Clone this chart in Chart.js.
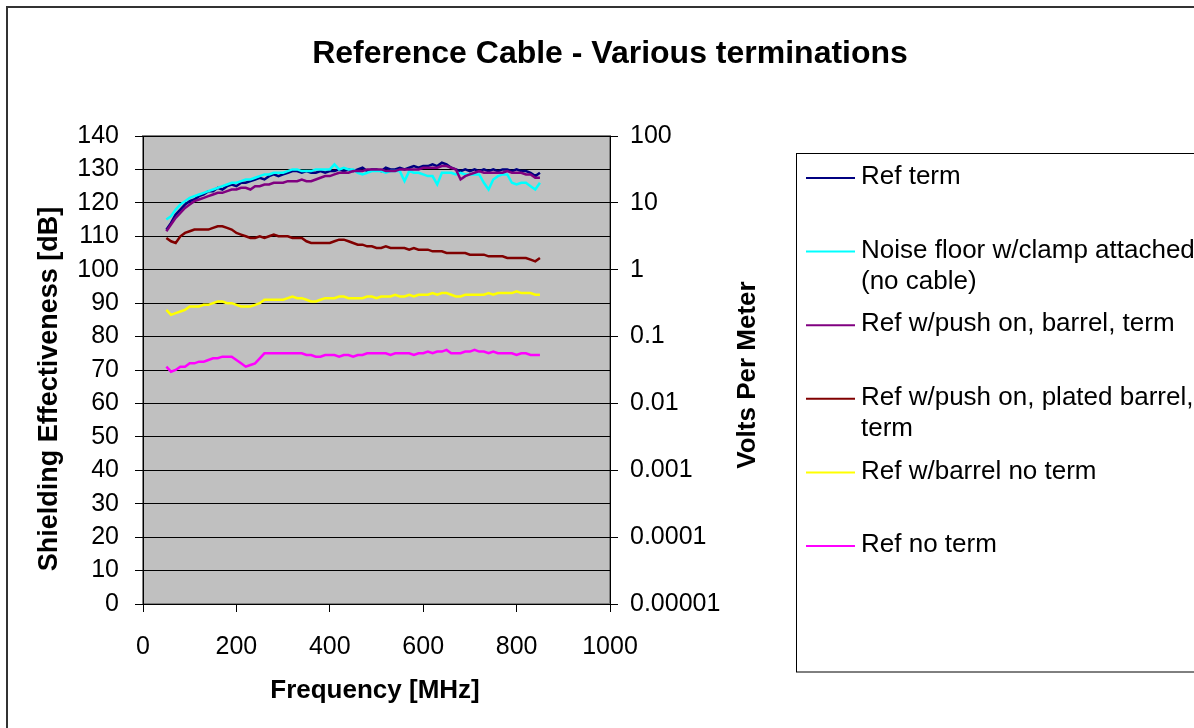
<!DOCTYPE html>
<html>
<head>
<meta charset="utf-8">
<script src="https://cdn.jsdelivr.net/npm/chart.js@4.4.1/dist/chart.umd.min.js"></script>
<style>
  body { margin: 0; background: #fff; }
  #wrap { width: 1194px; height: 728px; }
</style>
</head>
<body>
<div id="wrap"><canvas id="chart" width="1194" height="728"></canvas></div>
<script>
const FONT = '"Liberation Sans", Arial, sans-serif';

const chartTitle = 'Reference Cable - Various terminations';
const xTitle = 'Frequency [MHz]';
const yTitle = 'Shielding Effectiveness [dB]';
const y2Title = 'Volts Per Meter';

const voltTicks = [0.00001, 0.0001, 0.001, 0.01, 0.1, 1, 10, 100];
const voltLabels = ['0.00001', '0.0001', '0.001', '0.01', '0.1', '1', '10', '100'];

const freqs = [50, 60, 70, 80, 90, 100, 110, 120, 130, 140, 150, 160, 170, 180, 190,
  200, 210, 220, 230, 240, 250, 260, 270, 280, 290, 300, 310, 320, 330, 340, 350,
  360, 370, 380, 390, 400, 410, 420, 430, 440, 450, 460, 470, 480, 490, 500, 510,
  520, 530, 540, 550, 560, 570, 580, 590, 600, 610, 620, 630, 640, 650, 660, 670,
  680, 690, 700, 710, 720, 730, 740, 750, 760, 770, 780, 790, 800, 810, 820, 830,
  840, 850];

const seriesNames = [
  ['Ref term'],
  ['Noise floor w/clamp attached', '(no cable)'],
  ['Ref w/push on, barrel, term'],
  ['Ref w/push on, plated barrel,', 'term'],
  ['Ref w/barrel no term'],
  ['Ref no term']
];
const seriesColors = ['#000080', '#00FFFF', '#800080', '#800000', '#FFFF00', '#FF00FF'];

const refTerm = [112, 114, 116.5, 118, 119.5, 120.5, 121, 122, 122.5, 123.5, 123.5, 124.5,
  124, 125, 125.5, 125, 126, 126, 126.5, 127, 127.5, 127, 128, 128.5, 128, 128.5, 129,
  129.5, 129.5, 129, 129.5, 129, 129, 129.5, 129, 129.5, 129.5, 130, 129.5, 130, 129.5,
  130, 130.5, 129.5, 130, 130, 129.5, 130.5, 130, 130, 130.5, 130, 130.5, 131, 130.5, 131,
  131, 131.5, 131, 132, 131.5, 130.5, 130, 129.5, 130, 129.5, 130, 129.5, 130, 129.5, 130,
  129.5, 130, 130, 129.5, 130, 129.5, 129.5, 129, 128, 129];

const noiseFloor = [115, 116, 118, 119.5, 120.5, 121.5, 122, 122.5, 123, 123.5, 124, 124.5,
  125, 125.5, 126, 126, 126.5, 127, 127, 127.5, 128, 128.5, 128.5, 129, 129, 129, 129.5,
  130, 130, 129.5, 129.5, 129.5, 130, 130, 130, 130, 131.5, 130, 130.5, 130, 130, 129,
  128.5, 129, 129.5, 129.5, 129.5, 129, 129.5, 129.5, 129.5, 126.5, 129.5, 129, 129, 128.5,
  128, 128, 125.5, 129, 129, 129, 128.5, 129, 128.5, 128.5, 128.5, 128.5, 126, 124, 127,
  128, 128.5, 128.5, 126, 125.5, 126, 126, 125, 124, 126];

const pushBarrel = [111.5, 113.5, 115.5, 117, 118.5, 119.5, 120.5, 121, 121.5, 122, 122.5,
  123, 123, 123.5, 124, 124, 124.5, 124.5, 124, 125, 125, 125.5, 125.5, 126, 126, 126,
  126.5, 126.5, 126.5, 127, 126.5, 126.5, 127, 127.5, 128, 128, 128.5, 129, 129, 129,
  129.5, 129.5, 129.5, 130, 130, 130, 130, 129.5, 129.5, 129.5, 130, 130, 130, 130, 130,
  130.5, 130.5, 130.5, 130.5, 131, 131, 130.5, 130, 127, 128, 128.5, 129, 129.5, 129, 129,
  129, 129, 129, 129.5, 129, 129, 129, 128.5, 128.5, 127.5, 127.5];

const platedBarrel = [109.5, 108.5, 108, 110, 111, 111.5, 112, 112, 112, 112, 112.5, 113,
  113, 112.5, 112, 111, 110.5, 110, 109.5, 109.5, 110, 109.5, 110, 110.5, 110, 110, 110,
  109.5, 109.5, 109.5, 108.5, 108, 108, 108, 108, 108, 108.5, 109, 109, 108.5, 108, 107.5,
  107.5, 107, 107, 106.5, 106.5, 107, 106.5, 106.5, 106.5, 106.5, 106, 106.5, 106, 106,
  106, 105.5, 105.5, 105.5, 105, 105, 105, 105, 105, 104.5, 104.5, 104.5, 104.5, 104, 104,
  104, 104, 103.5, 103.5, 103.5, 103.5, 103.5, 103, 102.5, 103.5];

const barrelNoTerm = [88, 86.5, 87, 87.5, 88, 89, 89, 89, 89.5, 89.5, 90, 90.5, 90.5, 90,
  90, 89.5, 89, 89, 89, 89.5, 90, 91, 91, 91, 91, 91, 91.5, 92, 91.5, 91.5, 91, 90.5, 90.5,
  91, 91.5, 91.5, 91.5, 92, 92, 91.5, 91.5, 91.5, 91.5, 92, 92, 91.5, 92, 92, 92, 92.5,
  92, 92, 92.5, 92, 92.5, 92.5, 92.5, 93, 92.5, 93, 93, 92.5, 92, 92, 92.5, 92.5, 92.5,
  92.5, 92.5, 93, 92.5, 93, 93, 93, 93, 93.5, 93, 93, 93, 92.5, 92.5];

const noTerm = [71, 69.5, 70, 71, 71, 72, 72, 72.5, 72.5, 73, 73.5, 73.5, 74, 74, 74, 73,
  72, 71, 71.5, 72, 73.5, 75, 75, 75, 75, 75, 75, 75, 75, 75, 74.5, 74.5, 74, 74, 74.5,
  74.5, 74.5, 74, 74.5, 74.5, 74, 74.5, 74.5, 75, 75, 75, 75, 75, 74.5, 75, 75, 75, 75,
  74.5, 75, 75, 75.5, 75, 75.5, 75.5, 76, 75, 75, 75, 75.5, 75.5, 76, 75.5, 75.5, 75, 75.5,
  75, 75, 75, 75, 74.5, 75, 75, 74.5, 74.5, 74.5];

const seriesValues = [refTerm, noiseFloor, pushBarrel, platedBarrel, barrelNoTerm, noTerm];

const datasets = seriesValues.map((vals, i) => ({
  label: seriesNames[i].join(' '),
  data: vals.map((v, j) => ({ x: freqs[j], y: v })),
  borderColor: seriesColors[i],
  backgroundColor: seriesColors[i],
  borderWidth: 2.5,
  pointRadius: 0,
  tension: 0,
  yAxisID: 'y',
  order: seriesValues.length - i,
}));

// grey plot area + outer frame
const plotBackground = {
  id: 'plotBackground',
  beforeDraw(chart) {
    const { ctx, chartArea: { left, top, width, height } } = chart;
    ctx.save();
    ctx.fillStyle = '#fff';
    ctx.fillRect(0, 0, chart.width, chart.height);
    ctx.fillStyle = '#C0C0C0';
    ctx.fillRect(left, top, width, height);
    ctx.strokeStyle = '#808080';
    ctx.lineWidth = 2;
    ctx.strokeRect(left, top, width, height);
    ctx.strokeStyle = '#333';
    ctx.lineWidth = 2;
    ctx.strokeRect(7, 7, 1400, 1000);
    ctx.restore();
  },
};

// titles and legend box
const decorations = {
  id: 'decorations',
  afterDraw(chart) {
    const { ctx } = chart;
    ctx.save();
    ctx.fillStyle = '#000';
    ctx.textAlign = 'center';
    ctx.textBaseline = 'middle';

    ctx.font = 'bold 32px ' + FONT;
    ctx.fillText(chartTitle, 610, 54);

    ctx.font = 'bold 26px ' + FONT;
    ctx.fillText(xTitle, 375, 691);
    ctx.save();
    ctx.translate(748, 375);
    ctx.rotate(-Math.PI / 2);
    ctx.fillText(y2Title, 0, 0);
    ctx.restore();

    ctx.font = 'bold 27px ' + FONT;
    ctx.save();
    ctx.translate(50, 389);
    ctx.rotate(-Math.PI / 2);
    ctx.fillText(yTitle, 0, 0);
    ctx.restore();

    // legend
    ctx.strokeStyle = '#000';
    ctx.lineWidth = 1;
    ctx.strokeRect(796.5, 153.5, 600, 518.5);
    ctx.font = '26px ' + FONT;
    ctx.textAlign = 'left';
    chart.data.datasets.forEach((ds, i) => {
      const y = 178 + i * 73.6;
      ctx.strokeStyle = ds.borderColor;
      ctx.lineWidth = 2;
      ctx.beginPath();
      ctx.moveTo(806, y);
      ctx.lineTo(855, y);
      ctx.stroke();
      seriesNames[i].forEach((line, k) => {
        ctx.fillText(line, 861, y - 1 + k * 31);
      });
    });
    ctx.restore();
  },
};

new Chart(document.getElementById('chart'), {
  type: 'line',
  data: { datasets },
  options: {
    responsive: false,
    animation: false,
    layout: { padding: { top: 136, left: 0, right: 0, bottom: 0 } },
    plugins: {
      legend: { display: false },
      tooltip: { enabled: false },
      title: { display: false },
    },
    scales: {
      x: {
        type: 'linear',
        min: 0,
        max: 1000,
        ticks: {
          stepSize: 200,
          color: '#000',
          font: { family: FONT, size: 25 },
          padding: 20,
          maxRotation: 0,
          callback: (value) => String(value),
        },
        grid: { drawOnChartArea: false, drawTicks: true, tickLength: 8, color: '#000' },
        border: { color: '#000', width: 1 },
        afterFit(scale) { scale.height = 124; },
      },
      y: {
        position: 'left',
        min: 0,
        max: 140,
        ticks: { stepSize: 10, color: '#000', font: { family: FONT, size: 25 }, padding: 16 },
        grid: { color: '#000', tickLength: 8, lineWidth: 1 },
        border: { color: '#000', width: 1 },
        afterFit(scale) { scale.width = 143; },
      },
      y2: {
        type: 'logarithmic',
        position: 'right',
        min: 0.00001,
        max: 100,
        afterBuildTicks(axis) { axis.ticks = voltTicks.map((v) => ({ value: v })); },
        ticks: {
          color: '#000',
          font: { family: FONT, size: 25 },
          padding: 12,
          autoSkip: false,
          callback: (value, index) => voltLabels[index],
        },
        grid: { drawOnChartArea: false, tickLength: 8, color: '#000' },
        border: { color: '#000', width: 1 },
        afterFit(scale) { scale.width = 584; },
      },
    },
  },
  plugins: [plotBackground, decorations],
});
</script>
</body>
</html>
